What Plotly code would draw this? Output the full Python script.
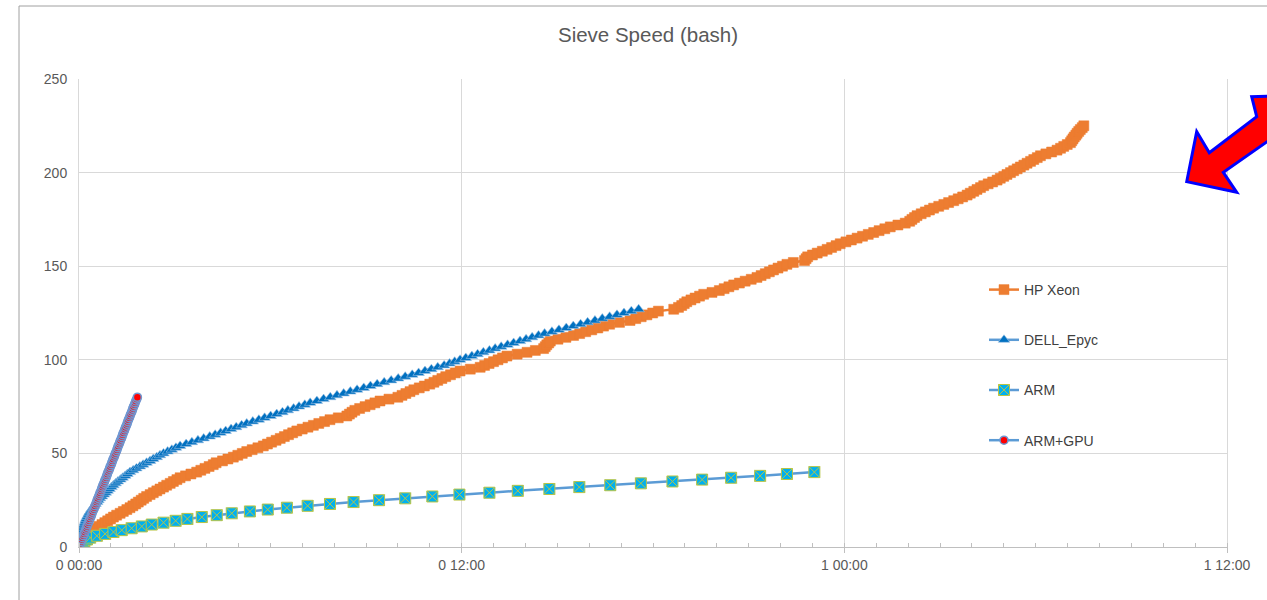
import plotly.graph_objects as go

# ---------------- data (elapsed time in hours, count on y) ----------------
hp_hours = [
    0.00, 0.04, 0.08, 0.13, 0.18, 0.23, 0.28, 0.33, 0.39, 0.45,
    0.54, 0.63, 0.72, 0.81, 0.90, 0.99, 1.08,
    1.18, 1.29, 1.39, 1.50, 1.60,
    1.69, 1.78, 1.86, 1.95, 2.03, 2.12,
    2.23, 2.33, 2.44, 2.54, 2.65,
    2.75, 2.86, 2.96, 3.07, 3.17,
    3.34, 3.51, 3.69,
    3.82, 3.95, 4.08, 4.21,
    4.30, 4.50,
    4.67, 4.84,
    4.98, 5.12, 5.26,
    5.43, 5.61, 5.78,
    5.91, 6.04, 6.18, 6.31,
    6.44, 6.57, 6.70, 6.83,
    7.00, 7.18, 7.35,
    7.52, 7.70, 7.87,
    8.13, 8.40,
    8.48, 8.56, 8.65, 8.80, 8.97, 9.13,
    9.28, 9.44,
    9.72, 10.00,
    10.13, 10.25, 10.38, 10.50,
    10.67, 10.83, 11.00,
    11.13, 11.25, 11.38, 11.50,
    11.65, 11.80, 11.95,
    12.27, 12.58,
    12.72, 12.86, 13.00, 13.14, 13.28, 13.42,
    13.74, 14.05,
    14.31, 14.57,
    14.62, 14.67, 14.73, 14.78,
    15.02, 15.27, 15.51,
    15.70, 15.89, 16.08, 16.27, 16.45, 16.64, 16.95, 17.28, 17.46, 17.63, 17.81,
    17.99, 18.17,
    18.65,
    18.80, 18.90, 18.98, 19.06,
    19.19, 19.32, 19.46, 19.59,
    19.85, 20.08, 20.23, 20.38, 20.53,
    20.71, 20.89, 21.08, 21.26,
    21.39, 21.52, 21.65, 21.78,
    21.92, 22.06, 22.20,
    22.40, 22.75, 22.80, 22.85,
    23.00, 23.15, 23.31, 23.46,
    23.60, 23.74, 23.87,
    24.05, 24.22, 24.40,
    24.57, 24.75, 24.92,
    25.09, 25.27, 25.44,
    25.68, 25.91,
    26.05, 26.12, 26.20, 26.28,
    26.41, 26.54, 26.67, 26.80,
    26.96, 27.12, 27.27, 27.43,
    27.57, 27.71, 27.85,
    27.95, 28.06, 28.16, 28.27, 28.37,
    28.51, 28.65, 28.79,
    28.89, 29.00, 29.10, 29.21, 29.31,
    29.42, 29.52, 29.63, 29.73,
    29.84, 29.94, 30.05, 30.15,
    30.32, 30.50, 30.67,
    30.78, 30.88, 30.99, 31.09,
    31.13, 31.17, 31.21, 31.26, 31.30,
    31.35, 31.40, 31.46, 31.51,
]

dell_hours = [
    0.00, 0.01, 0.02, 0.03, 0.04, 0.05,
    0.06, 0.07, 0.09, 0.10, 0.12,
    0.14, 0.16, 0.18, 0.20, 0.22,
    0.25, 0.28, 0.31, 0.35,
    0.39, 0.43, 0.48, 0.52, 0.57, 0.61, 0.66,
    0.72, 0.78, 0.84, 0.90, 0.96, 1.02, 1.08,
    1.15, 1.22, 1.30, 1.37, 1.45, 1.52, 1.60,
    1.70, 1.80, 1.91, 2.01, 2.12,
    2.23, 2.33, 2.44, 2.54, 2.65,
    2.78, 2.91, 3.04, 3.17,
    3.36, 3.54, 3.73, 3.91, 4.10,
    4.27, 4.44, 4.60, 4.77, 4.93, 5.10, 5.26,
    5.45, 5.64, 5.82, 6.01, 6.20,
    6.38, 6.55, 6.73, 6.90, 7.08, 7.25,
    7.46, 7.67, 7.88, 8.09, 8.30,
    8.51, 8.72, 8.93, 9.14, 9.35,
    9.57, 9.79, 10.01, 10.23, 10.45,
    10.65, 10.85, 11.05, 11.25, 11.45,
    11.62, 11.78, 11.95,
    12.13, 12.32, 12.50, 12.68, 12.87, 13.05,
    13.24, 13.44, 13.63, 13.83, 14.02, 14.21, 14.41, 14.60,
    14.83, 15.05, 15.28, 15.50, 15.73, 15.95,
    16.18, 16.41, 16.64, 16.87, 17.09, 17.32, 17.55,
]

arm_hours = [
    0.00, 0.05, 0.10, 0.17, 0.25, 0.35, 0.56, 0.82, 1.08, 1.34,
    1.65, 1.97, 2.28, 2.65, 3.03, 3.40, 3.85, 4.32, 4.79, 5.36,
    5.92, 6.52, 7.17, 7.87, 8.61, 9.41, 10.23, 11.08, 11.93, 12.87,
    13.76, 14.75, 15.69, 16.66, 17.62, 18.61, 19.54, 20.45, 21.36, 22.20,
    23.06,
]

gpu_hours = [
    0.00, 0.02, 0.05, 0.07, 0.09, 0.11, 0.14, 0.16, 0.18, 0.21,
    0.23, 0.25, 0.27, 0.30, 0.32, 0.34, 0.37, 0.39, 0.41, 0.43,
    0.46, 0.48, 0.50, 0.53, 0.55, 0.57, 0.59, 0.62, 0.64, 0.66,
    0.69, 0.71, 0.73, 0.75, 0.78, 0.80, 0.82, 0.85, 0.87, 0.89,
    0.91, 0.94, 0.96, 0.98, 1.01, 1.03, 1.05, 1.07, 1.10, 1.12,
    1.14, 1.17, 1.19, 1.21, 1.23, 1.26, 1.28, 1.30, 1.33, 1.35,
    1.37, 1.39, 1.42, 1.44, 1.46, 1.49, 1.51, 1.53, 1.55, 1.58,
    1.60, 1.62, 1.65, 1.67, 1.69, 1.71, 1.74, 1.76, 1.78, 1.81,
    1.83,
]

hp_count = list(range(len(hp_hours)))
dell_count = list(range(len(dell_hours)))
arm_count = list(range(len(arm_hours)))
gpu_count = list(range(len(gpu_hours)))

series_names = ["HP Xeon", "DELL_Epyc", "ARM", "ARM+GPU"]
x_tick_vals = [0, 12, 24, 36]
x_tick_text = ["0 00:00", "0 12:00", "1 00:00", "1 12:00"]
y_tick_vals = [0, 50, 100, 150, 200, 250]

title_text = "Sieve Speed (bash)"

# ---------------- figure ----------------
FONT = "Liberation Sans"
GRID = "#D9D9D9"
AXIS = "#BFBFBF"
LINE_BLUE = "#5B9BD5"

fig = go.Figure()

fig.add_trace(go.Scatter(
    x=hp_hours, y=hp_count, name=series_names[0], mode="lines+markers",
    line=dict(color="#ED7D31", width=2.5),
    marker=dict(symbol="square", size=10, color="#ED7D31",
                line=dict(color="#ED7D31", width=0.5)),
    legendgroup="a"))

fig.add_trace(go.Scatter(
    x=dell_hours, y=dell_count, name=series_names[1], mode="lines+markers",
    line=dict(color=LINE_BLUE, width=2.5),
    marker=dict(symbol="triangle-up", size=10, color="#0070C0",
                line=dict(color="#9DC3E6", width=0.6)),
    legendgroup="b"))

fig.add_trace(go.Scatter(
    x=arm_hours, y=arm_count, name=series_names[2], mode="lines+markers",
    line=dict(color=LINE_BLUE, width=2.5),
    marker=dict(symbol="square-x", size=11, color="#00B0F0",
                line=dict(color="#B8C445", width=1)),
    legendgroup="c"))

fig.add_trace(go.Scatter(
    x=gpu_hours, y=gpu_count, name=series_names[3], mode="lines+markers",
    line=dict(color=LINE_BLUE, width=2.5),
    marker=dict(symbol="circle", size=8, color="#FF0000",
                line=dict(color="#6F98D3", width=1.6)),
    legendgroup="d"))

# pixel -> paper helpers for decorations (plot area 79..1227 x, 79..547 y)
L, R, T, B = 79, 1227, 79, 547
def px(xp):
    return (xp - L) / (R - L)
def py(yp):
    return (B - yp) / (B - T)

arrow_pts = [(1186.7, 181.7), (1196.7, 131.7), (1209.3, 152.7), (1256.7, 116.7),
             (1251.7, 96.7), (1300, 95), (1300, 118.6), (1223.3, 172.3),
             (1236.7, 192.3)]
path = "M " + " L ".join(f"{px(a):.5f},{py(b):.5f}" for a, b in arrow_pts) + " Z"

fig.update_layout(
    width=1267, height=600,
    margin=dict(l=L, r=1267 - R, t=T, b=600 - B),
    paper_bgcolor="white", plot_bgcolor="white",
    font=dict(family=FONT, size=14, color="#595959"),
    title=dict(text=title_text, x=px(648), xref="paper", y=1 - 35 / 600,
               yanchor="middle", xanchor="center",
               font=dict(family=FONT, size=20.5, color="#595959")),
    xaxis=dict(range=[0, 36], tickvals=x_tick_vals, ticktext=x_tick_text,
               showgrid=True, gridcolor=GRID, gridwidth=1, zeroline=False,
               showline=True, linecolor=AXIS, linewidth=1,
               ticks="outside", ticklen=5, tickcolor=AXIS,
               minor=dict(dtick=1, tick0=0, ticks="inside", ticklen=4,
                          tickcolor=AXIS, showgrid=False),
               tickfont=dict(family=FONT, size=14, color="#595959"),
               fixedrange=True),
    yaxis=dict(range=[0, 250], tickvals=y_tick_vals,
               showgrid=True, gridcolor=GRID, gridwidth=1, zeroline=False,
               showline=True, linecolor=GRID, mirror=True,
               ticks="", ticklabelstandoff=8,
               tickfont=dict(family=FONT, size=14, color="#595959"),
               fixedrange=True),
    legend=dict(x=px(984), y=py(274), xanchor="left", yanchor="top",
                bgcolor="rgba(0,0,0,0)", borderwidth=0,
                tracegroupgap=29, itemwidth=30,
                font=dict(family=FONT, size=14, color="#404040")),
    showlegend=True,
    shapes=[
        dict(type="rect", xref="paper", yref="paper",
             x0=px(19), x1=px(1320), y0=py(640), y1=py(6),
             line=dict(color="#A0A0A0", width=1), fillcolor="rgba(0,0,0,0)",
             layer="below"),
        dict(type="path", xref="paper", yref="paper", path=path,
             fillcolor="#FF0000", line=dict(color="#0000FF", width=3),
             layer="above"),
    ],
)

fig.write_html("out.html")
